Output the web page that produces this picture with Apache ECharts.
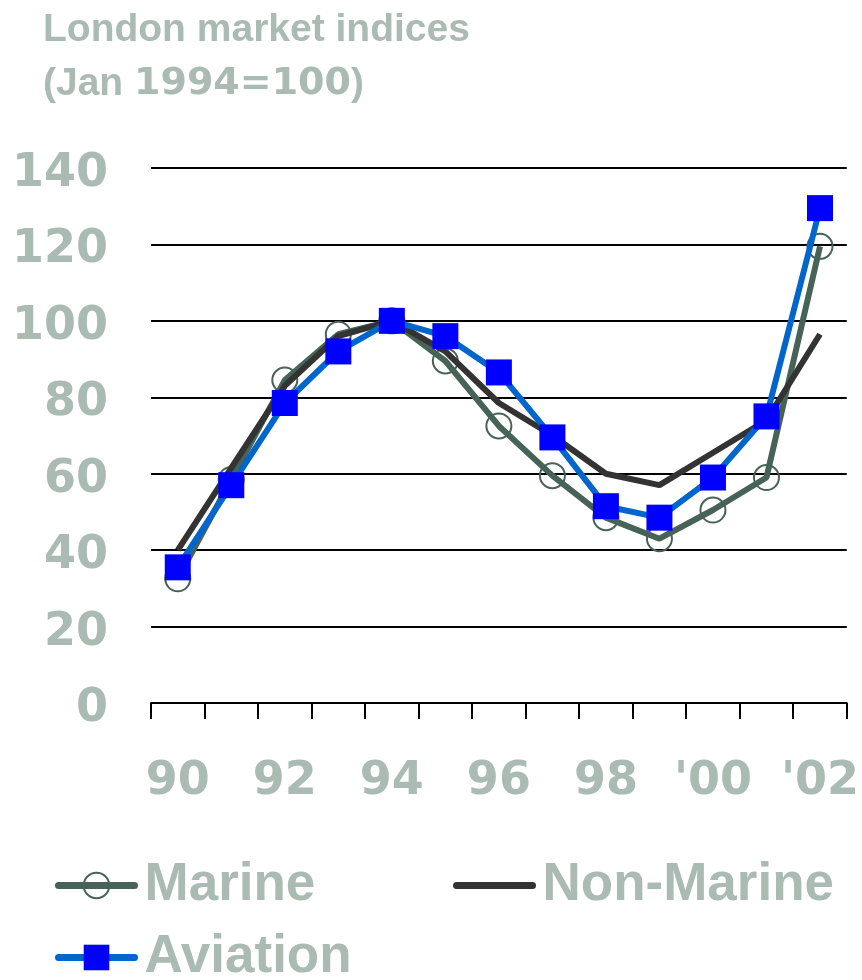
<!DOCTYPE html>
<html>
<head>
<meta charset="utf-8">
<script src="https://cdn.jsdelivr.net/npm/echarts@6/dist/echarts.min.js"></script>
<style>
  html, body { margin: 0; padding: 0; background: #ffffff; }
  #chart { width: 862px; height: 980px; }
</style>
</head>
<body>
<div id="chart"></div>
<script>
// Index values, Jan 1994 = 100
const years = ['90', '91', '92', '93', '94', '95', '96', '97', '98', '99', "'00", "'01", "'02"];
const marine = [32.5, 58.5, 84.5, 96.5, 100, 89.5, 72.5, 59.5, 48.5, 43, 50.5, 59, 119.5];
const nonMarine = [40, 61.5, 83, 96, 100, 92, 78.5, 70, 60, 57, 65.5, 74, 96.5];
const aviation = [35.5, 57, 78.5, 92, 100, 96, 86.5, 69.5, 51.5, 48.5, 59, 75, 129.5];

const TEXT = '#aabbb3';
const SANS = '"Liberation Sans", Arial, sans-serif';
const DIGITS = '"DejaVu Sans", sans-serif';

const chart = echarts.init(document.getElementById('chart'), null, { renderer: 'canvas' });

function legendBox(name, left, top, extra) {
  return Object.assign({
    data: [name],
    left: left,
    top: top,
    orient: 'horizontal',
    padding: 0,
    itemWidth: 76,
    itemHeight: 32,
    selectedMode: false,
    lineStyle: { width: 7, cap: 'round' },
    textStyle: {
      fontFamily: SANS,
      fontWeight: 'bold',
      fontSize: 53,
      color: TEXT,
      padding: [0, 0, 0, 5]
    }
  }, extra || {});
}

chart.setOption({
  animation: false,
  backgroundColor: '#ffffff',
  title: {
    left: 38,
    top: -2,
    text: '{a|London market indices}\n{a|(Jan }{b|1994=100}{a|)}',
    textStyle: {
      rich: {
        a: { fontFamily: SANS, fontWeight: 'bold', fontSize: 39, color: TEXT, lineHeight: 54 },
        b: { fontFamily: DIGITS, fontWeight: 'bold', fontSize: 38, color: TEXT, lineHeight: 54 }
      }
    }
  },
  legend: [
    legendBox('Marine', 55, 859),
    // plain line key, no marker
    legendBox('Non-Marine', 453, 859, { itemStyle: { color: 'rgba(0,0,0,0)', borderWidth: 0 } }),
    legendBox('Aviation', 55, 931)
  ],
  grid: { left: 151, right: 14, top: 168, bottom: 277, containLabel: false },
  xAxis: {
    type: 'category',
    data: years,
    boundaryGap: true,
    axisLine: { show: true, lineStyle: { color: '#000000', width: 2 } },
    axisTick: { show: true, interval: 0, length: 16, lineStyle: { color: '#000000', width: 2 } },
    axisLabel: {
      interval: 1,
      margin: 56,
      fontFamily: DIGITS,
      fontWeight: 'bold',
      fontSize: 46,
      color: TEXT
    },
    splitLine: { show: false }
  },
  yAxis: {
    type: 'value',
    min: 0,
    max: 140,
    interval: 20,
    axisLine: { show: false },
    axisTick: { show: false },
    axisLabel: {
      margin: 43,
      formatter: '{v|{value}}',
      rich: {
        v: {
          fontFamily: DIGITS,
          fontWeight: 'bold',
          fontSize: 46,
          color: TEXT,
          padding: [12, 0, 0, 0]
        }
      }
    },
    splitLine: { show: true, lineStyle: { color: '#000000', width: 2 } }
  },
  series: [
    {
      name: 'Marine',
      type: 'line',
      data: marine,
      symbol: 'circle',
      symbolSize: 25,
      lineStyle: { color: '#476357', width: 6 },
      itemStyle: { color: 'rgba(0,0,0,0)', borderColor: '#476357', borderWidth: 2 },
      z: 2
    },
    {
      name: 'Non-Marine',
      type: 'line',
      data: nonMarine,
      symbol: 'none',
      lineStyle: { color: '#333333', width: 6 },
      itemStyle: { color: '#333333' },
      z: 3
    },
    {
      name: 'Aviation',
      type: 'line',
      data: aviation,
      symbol: 'rect',
      symbolSize: 26,
      lineStyle: { color: '#0066cc', width: 6 },
      itemStyle: { color: '#0000ff' },
      z: 4
    }
  ]
});
</script>
</body>
</html>
